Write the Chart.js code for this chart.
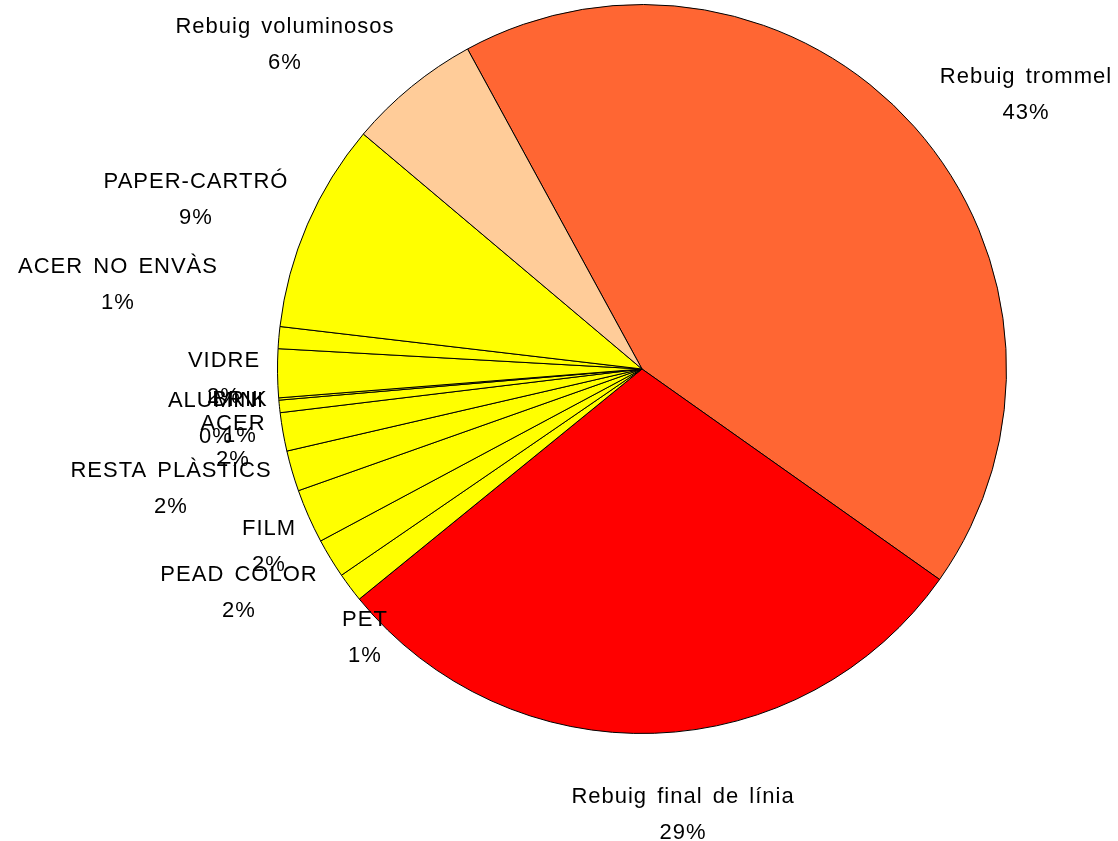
<!DOCTYPE html>
<html>
<head>
<meta charset="utf-8">
<script src="https://cdn.jsdelivr.net/npm/chart.js@4"></script>
<style>
  html, body { margin: 0; padding: 0; background: #fff; }
  #wrap { width: 1118px; height: 841px; }
</style>
</head>
<body>
<div id="wrap"><canvas id="chart"></canvas></div>
<script>
const categories = [
  'Rebuig trommel', 'Rebuig final de línia', 'PET', 'PEAD COLOR', 'FILM',
  'RESTA PLÀSTICS', 'ACER', 'BRIK', 'ALUMINI', 'VIDRE', 'ACER NO ENVÀS',
  'PAPER-CARTRÓ', 'Rebuig voluminosos',
];
const shares = [42.7, 29.3, 1.3, 1.75, 2.4, 1.8, 1.7, 0.55, 0.1, 2.15, 0.97, 9.28, 5.9];

const sliceColors = [
  '#FF6633', '#FF0000', '#FFFF00', '#FFFF00', '#FFFF00', '#FFFF00', '#FFFF00',
  '#FFFF00', '#FFFF00', '#FFFF00', '#FFFF00', '#FFFF00', '#FFCC99',
];

// label centre x and first baseline y, same order as categories
const labelPos = [
  [1026, 83], [683, 803], [365, 626], [239, 581], [269, 535],
  [171, 477], [233, 430], [240, 406], [216, 407], [224, 367], [118, 273],
  [196, 188], [285, 33],
];

const labelPlugin = {
  id: 'outsideLabels',
  afterDraw(chart) {
    const ctx = chart.ctx;
    const total = shares.reduce((a, b) => a + b, 0);
    ctx.save();
    ctx.font = "22px 'Liberation Sans', Arial, sans-serif";
    ctx.letterSpacing = '1px';
    ctx.wordSpacing = '3px';
    ctx.fillStyle = '#000';
    ctx.textAlign = 'center';
    ctx.textBaseline = 'alphabetic';
    categories.forEach((name, i) => {
      const [x, y] = labelPos[i];
      const pct = Math.round(shares[i] / total * 100) + '%';
      ctx.fillText(name, x, y);
      ctx.fillText(pct, x, y + 36);
    });
    ctx.restore();
  },
};

new Chart(document.getElementById('chart'), {
  type: 'pie',
  data: {
    labels: categories,
    datasets: [{
      data: shares,
      backgroundColor: sliceColors,
      borderColor: '#000',
      borderWidth: 1,
    }],
  },
  options: {
    responsive: true,
    maintainAspectRatio: false,
    animation: false,
    rotation: -28.6,
    layout: { padding: { left: 277, right: 111, top: 4, bottom: 107 } },
    plugins: {
      legend: { display: false },
      tooltip: { enabled: false },
    },
  },
  plugins: [labelPlugin],
});
</script>
</body>
</html>
